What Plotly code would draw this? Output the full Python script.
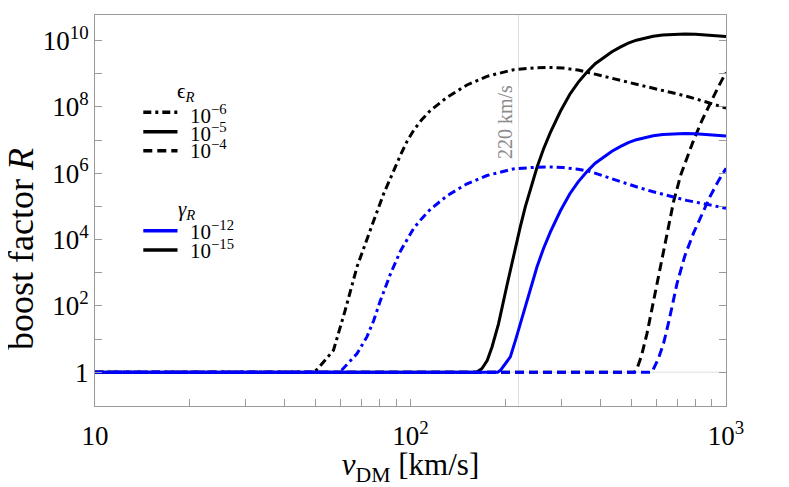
import plotly.graph_objects as go

# boost factor R versus dark-matter speed.
# black = gamma_R 1e-15, blue = gamma_R 1e-12 ; dash style = epsilon_R.
# speeds in km/s, boost factor given as its exponent log10(R)

v_e6_g15 = [10, 49.5, 50.9, 57.0, 62.1, 67.7, 74.6, 82.3, 92.9, 97.5, 102.4, 108.5,
            115.6, 130.6, 151, 174.8, 212, 250, 280, 305, 340, 371, 420, 462, 520,
            588, 666, 750, 871, 1000]
lgR_e6_g15 = [0, 0, 0.11, 0.66, 1.87, 3.18, 4.29, 5.39, 6.54, 6.96, 7.30, 7.61,
              7.89, 8.29, 8.66, 8.92, 9.12, 9.18, 9.19, 9.17, 9.11, 9.02, 8.91, 8.80, 8.68,
              8.56, 8.44, 8.32, 8.14, 7.96]

v_e5_g15 = [10, 162, 168.5, 175, 181.3, 190, 202.2, 212, 222.8, 231, 239.8, 251.8,
            264, 277.4, 298.4, 320, 340, 362.6, 385, 410, 435, 462, 490, 520, 555,
            588, 630, 680, 740, 800, 870, 940, 1000]
lgR_e5_g15 = [0, 0, 0.11, 0.35, 0.76, 1.45, 2.62, 3.5, 4.38, 4.98, 5.52, 6.18,
              6.73, 7.22, 7.86, 8.38, 8.74, 9.05, 9.30, 9.50, 9.66, 9.80, 9.92, 10.01, 10.08,
              10.13, 10.17, 10.19, 10.20, 10.19, 10.17, 10.14, 10.12]

v_e4_g15 = [10, 512, 522.4, 540, 561.9, 590, 619.4, 650, 682.3, 720, 760, 789,
            840, 891.7, 945, 1000]
lgR_e4_g15 = [0, 0, 0.11, 0.5, 1.17, 2.17, 3.18, 4.2, 5.15, 5.97, 6.6, 6.99,
              7.6, 8.12, 8.6, 9.04]

v_e6_g12 = [10, 59, 60.5, 67.7, 72.8, 76.4, 80.2, 86.3, 92.9, 97.5, 102.4, 108.5,
            115.6, 130.6, 151, 174.8, 212, 250, 280, 305, 340, 371, 420, 462, 520,
            588, 666, 750, 871, 1000]
lgR_e6_g12 = [0, 0, 0.06, 0.56, 1.07, 1.55, 2.15, 2.95, 3.65, 3.98, 4.34, 4.63,
              4.91, 5.32, 5.68, 5.93, 6.13, 6.18, 6.19, 6.17, 6.12, 6.05, 5.88, 5.74, 5.59,
              5.44, 5.30, 5.18, 5.06, 4.94]

v_e5_g12 = [10, 189, 193, 199, 207.2, 215, 222.8, 231, 239.8, 251.8, 264, 277.4,
            298.4, 320, 340, 362.6, 385, 410, 435, 462, 490, 520, 555, 588, 630,
            680, 740, 800, 870, 940, 1000]
lgR_e5_g12 = [0, 0, 0.06, 0.22, 0.46, 0.95, 1.47, 2.0, 2.55, 3.18, 3.73, 4.22,
              4.86, 5.38, 5.74, 6.05, 6.30, 6.50, 6.66, 6.80, 6.92, 7.01, 7.08, 7.13, 7.17,
              7.19, 7.20, 7.19, 7.17, 7.14, 7.12]

v_e4_g12 = [10, 583, 589.7, 610, 634.2, 660, 699.3, 740, 789.4, 840, 891.7, 945, 1000]
lgR_e4_g12 = [0, 0, 0.11, 0.4, 0.87, 1.56, 2.67, 3.5, 4.2, 4.79, 5.31, 5.76, 6.15]

v_sun = 220

x_ticks = [10, 20, 30, 40, 50, 60, 70, 80, 90, 100, 200, 300, 400, 500, 600, 700, 800, 900, 1000]
x_labels = ["10"] + [""] * 8 + ["10<sup>2</sup>"] + [""] * 8 + ["10<sup>3</sup>"]
y_ticks = [10 ** k for k in range(0, 11)]
y_labels = ["1" if k == 0 else ("10<sup>%d</sup>" % k if k % 2 == 0 else "") for k in range(0, 11)]

DASHDOT = "8px,4px,3px,4px"
DASH = "9px,5px"
BLUE = "#0000ff"
GRAY = "#9a9a9a"
FONT = "Liberation Serif"

fig = go.Figure()

series = [
    (v_e6_g15, lgR_e6_g15, "black", DASHDOT),
    (v_e5_g15, lgR_e5_g15, "black", "solid"),
    (v_e4_g15, lgR_e4_g15, "black", DASH),
    (v_e6_g12, lgR_e6_g12, BLUE, DASHDOT),
    (v_e4_g12, lgR_e4_g12, BLUE, DASH),
    (v_e5_g12, lgR_e5_g12, BLUE, "solid"),
]
for v, lg, color, dash in series:
    fig.add_trace(go.Scatter(x=v, y=[10 ** e for e in lg], mode="lines",
                             line=dict(color=color, width=3, dash=dash),
                             hoverinfo="skip"))

# reference lines: R = 1 and v = 220 km/s
fig.add_hline(y=1, line=dict(color="#e0e0e0", width=1), layer="below")
fig.add_vline(x=v_sun, line=dict(color="#e0e0e0", width=1), layer="below")


# the page sits 8 px in from the window corner; these map window pixels to paper
def px_x(p):
    return (p - 95) / 631.0


def px_y(p):
    return (406 - p) / 391.0


fig.add_annotation(x=px_x(505), y=px_y(122), xref="paper", yref="paper",
                   xanchor="center", yanchor="middle",
                   text="220 km/s", textangle=-90, showarrow=False,
                   font=dict(family=FONT, size=20, color="#8c8c8c"))

# y label sits a little below the frame centre in the original
fig.add_annotation(x=px_x(21), y=px_y(249), xref="paper", yref="paper",
                   xanchor="center", yanchor="middle",
                   text="boost factor <i>R</i>", textangle=-90, showarrow=False,
                   font=dict(family=FONT, size=36, color="black"))

# hand-made legend, like the original
legend_rows = [
    (112.3, 115, "black", DASHDOT, "10<sup>\u22126</sup>"),
    (131.7, 132, "black", "solid", "10<sup>\u22125</sup>"),
    (150.7, 150, "black", DASH, "10<sup>\u22124</sup>"),
    (230.7, 231, BLUE, "solid", "10<sup>\u221212</sup>"),
    (250.0, 249, "black", "solid", "10<sup>\u221215</sup>"),
]
for ly, ty, color, dash, label in legend_rows:
    fig.add_shape(type="line", xref="paper", yref="paper",
                  x0=px_x(143.3), x1=px_x(177.5), y0=px_y(ly), y1=px_y(ly),
                  line=dict(color=color, width=3.5, dash=dash))
    fig.add_annotation(x=px_x(188), y=px_y(ty), xref="paper", yref="paper",
                       text=label, showarrow=False, xanchor="left", yanchor="middle",
                       font=dict(family=FONT, size=21, color="black"))

fig.add_annotation(x=px_x(186), y=px_y(92), xref="paper", yref="paper",
                   xanchor="center", yanchor="middle",
                   text="\u03f5<sub><i>R</i></sub>", showarrow=False,
                   font=dict(family=FONT, size=21, color="black"))
fig.add_annotation(x=px_x(186), y=px_y(210), xref="paper", yref="paper",
                   xanchor="center", yanchor="middle",
                   text="<i>\u03b3</i><sub><i>R</i></sub>", showarrow=False,
                   font=dict(family=FONT, size=21, color="black"))

fig.update_xaxes(type="log", range=[1, 3], tickvals=x_ticks, ticktext=x_labels,
                 ticks="inside", ticklen=7, tickcolor=GRAY, showline=True,
                 linecolor=GRAY, linewidth=1, mirror=True, showgrid=False, zeroline=False,
                 automargin=False, ticklabelstandoff=6,
                 tickfont=dict(family=FONT, size=27, color="black"),
                 title=dict(text="<i>v</i><sub>DM</sub> [km/s]", standoff=6,
                            font=dict(family=FONT, size=31, color="black")))
fig.update_yaxes(type="log", range=[-1.02, 10.77], tickvals=y_ticks, ticktext=y_labels,
                 ticks="inside", ticklen=7, tickcolor=GRAY, showline=True,
                 linecolor=GRAY, linewidth=1, mirror="ticks", showgrid=False, zeroline=False,
                 automargin=False,
                 tickfont=dict(family=FONT, size=27, color="black"))

fig.update_layout(width=781, height=479, showlegend=False,
                  margin=dict(l=87, r=63, t=7, b=81),
                  plot_bgcolor="white", paper_bgcolor="white",
                  font=dict(family=FONT))

fig.write_html("out.html")
